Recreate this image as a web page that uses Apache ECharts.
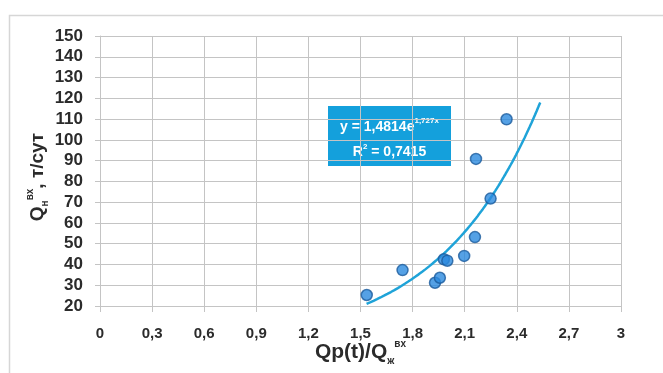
<!DOCTYPE html>
<html>
<head>
<meta charset="utf-8">
<script src="https://cdn.jsdelivr.net/npm/echarts@6/dist/echarts.min.js"></script>
<style>
  html, body { margin: 0; padding: 0; background: #ffffff; }
  #chart { width: 663px; height: 373px; }
</style>
</head>
<body>
<div id="chart"></div>
<script>
// Measured points: Qp(t)/Qж (x) against Qн (y), t/сут
var xVals = [1.536, 1.742, 1.929, 1.957, 1.980, 2.000, 2.097, 2.159, 2.165, 2.249, 2.341];
var yVals = [25.3, 37.3, 31.2, 33.6, 42.5, 41.8, 44.1, 53.2, 90.8, 71.7, 109.9];

// Exponential trend y = a * e^(b x), as stated in the label
var trendCoef = [1.4814, 1.727];
var trendRange = [1.535, 2.535];
var rSquared = '0,7415';

var fontFamily = '"Liberation Sans", Arial, sans-serif';
var textColor = '#2b2b2b';
var gridColor = '#c4c4c4';

function fmtComma(v) {
  return String(+(+v).toFixed(1)).replace('.', ',');
}

var scatterData = xVals.map(function (x, i) { return [x, yVals[i]]; });

var trendData = [];
var steps = 100;
for (var i = 0; i <= steps; i++) {
  var x = trendRange[0] + (trendRange[1] - trendRange[0]) * i / steps;
  trendData.push([x, trendCoef[0] * Math.exp(trendCoef[1] * x)]);
}

function titleRich(size) {
  return {
    m: { fontSize: size, fontWeight: 'bold', color: textColor, lineHeight: size + 6, fontFamily: fontFamily },
    sub: { fontSize: 10, fontWeight: 'bold', color: textColor, lineHeight: 13, verticalAlign: 'bottom', fontFamily: fontFamily },
    sup: { fontSize: 10, fontWeight: 'bold', color: textColor, lineHeight: 12, verticalAlign: 'top', fontFamily: fontFamily }
  };
}

var chart = echarts.init(document.getElementById('chart'), null, { renderer: 'canvas' });

chart.setOption({
  backgroundColor: '#ffffff',
  animation: false,
  grid: { left: 100, right: 42, top: 36, bottom: 67, outerBoundsMode: 'none', containLabel: false },
  xAxis: {
    type: 'value',
    min: 0, max: 3, interval: 0.3,
    name: '{m|Qp(t)/Q}{sub|ж}{sup|вх}',
    nameLocation: 'middle',
    nameGap: 33,
    nameMoveOverlap: false,
    nameTextStyle: { fontFamily: fontFamily, rich: titleRich(21) },
    axisLine: { show: true, lineStyle: { color: gridColor, width: 1 } },
    axisTick: { show: true, length: 6, lineStyle: { color: gridColor } },
    splitLine: { show: true, lineStyle: { color: gridColor, width: 1 } },
    axisLabel: {
      margin: 20,
      fontSize: 15, fontWeight: 'bold', color: textColor, fontFamily: fontFamily,
      formatter: fmtComma
    }
  },
  yAxis: {
    type: 'value',
    min: 20, max: 150, interval: 10,
    name: '{m|Q}{sub|н}{sup|вх}{m|, т/сут}',
    nameLocation: 'middle',
    nameGap: 50,
    nameMoveOverlap: false,
    nameTextStyle: { fontFamily: fontFamily, padding: [0, 12, 0, 0], rich: titleRich(19) },
    axisLine: { show: true, lineStyle: { color: gridColor, width: 1 } },
    axisTick: { show: true, length: 5, lineStyle: { color: gridColor } },
    splitLine: { show: true, lineStyle: { color: gridColor, width: 1 } },
    axisLabel: {
      margin: 17,
      fontSize: 17, fontWeight: 'bold', color: textColor, fontFamily: fontFamily
    }
  },
  series: [
    {
      name: 'trend',
      type: 'line',
      data: trendData,
      showSymbol: false,
      smooth: false,
      lineStyle: { color: '#1fa3d8', width: 2.5 },
      z: 2
    },
    {
      name: 'points',
      type: 'scatter',
      data: scatterData,
      symbol: 'circle',
      symbolSize: 11,
      itemStyle: { color: '#2a8ade', borderColor: '#1b5b9c', borderWidth: 1.5 },
      z: 3
    }
  ],
  graphic: [
    {
      type: 'rect',
      shape: { x: 9.5, y: 15.5, width: 700, height: 400 },
      style: { fill: 'none', stroke: '#d6d6d6', lineWidth: 1.5 },
      silent: true,
      z: -1
    },
    {
      type: 'group',
      left: 328,
      top: 106,
      children: [
        {
          type: 'rect',
          shape: { x: 0, y: 0, width: 123, height: 60 },
          style: { fill: '#14a0dc' }
        },
        {
          type: 'text',
          x: 61.5, y: 21,
          style: {
            text: '{t|y = ' + String(trendCoef[0]).replace('.', ',') + 'e}{sup|' + String(trendCoef[1]).replace('.', ',') + 'x}',
            align: 'center', verticalAlign: 'middle',
            rich: {
              t: { fontSize: 14, fontWeight: 'bold', fill: '#ffffff', fontFamily: fontFamily, lineHeight: 20 },
              sup: { fontSize: 8, fontWeight: 'bold', fill: '#ffffff', fontFamily: fontFamily, lineHeight: 10, verticalAlign: 'top' }
            }
          }
        },
        {
          type: 'text',
          x: 61.5, y: 46,
          style: {
            text: '{t|R}{sup|2}{t| = ' + rSquared + '}',
            align: 'center', verticalAlign: 'middle',
            rich: {
              t: { fontSize: 14, fontWeight: 'bold', fill: '#ffffff', fontFamily: fontFamily, lineHeight: 18 },
              sup: { fontSize: 8, fontWeight: 'bold', fill: '#ffffff', fontFamily: fontFamily, lineHeight: 10, verticalAlign: 'top' }
            }
          }
        }
      ]
    }
  ]
});
</script>
</body>
</html>
